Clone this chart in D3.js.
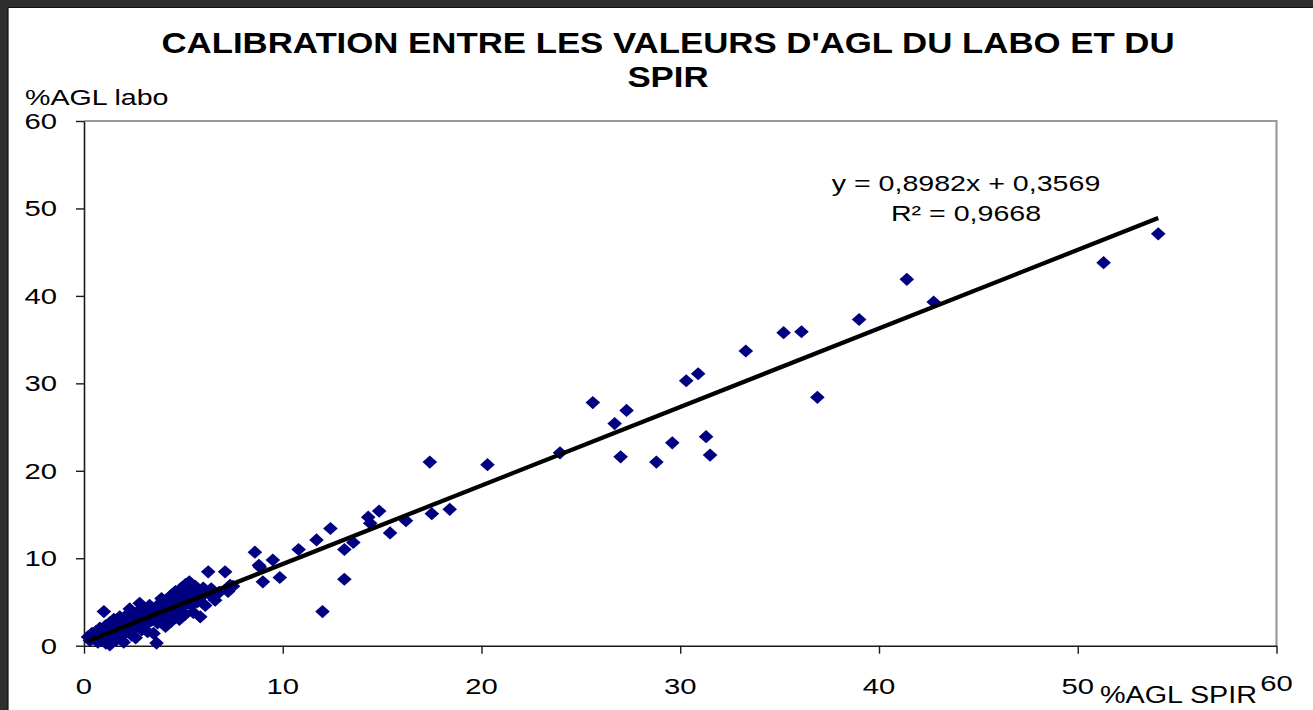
<!DOCTYPE html>
<html>
<head>
<meta charset="utf-8">
<script src="https://cdn.jsdelivr.net/npm/d3@7"></script>
<style>
  html, body { margin: 0; padding: 0; background: #fff; }
  svg { display: block; }
  text { font-family: "Liberation Sans", Arial, sans-serif; fill: #000; }
</style>
</head>
<body>
<svg id="chart" width="1313" height="710"></svg>
<script>
// Calibration data: %AGL measured by NIRS (SPIR) vs laboratory reference
const spirValues = [
  0.2, 0.3, 0.4, 0.5, 0.6, 0.7, 0.8, 0.8, 0.9, 1.0, 1.0, 1.1, 1.1, 1.2, 1.3, 1.3, 1.4, 1.5, 1.5, 1.6,
  1.6, 1.7, 1.8, 1.8, 1.9, 2.0, 2.0, 2.1, 2.2, 2.2, 2.3, 2.4, 2.4, 2.5, 2.6, 2.6, 2.7, 2.8, 2.8, 2.9,
  3.0, 3.0, 3.1, 3.2, 3.2, 3.3, 3.4, 3.5, 3.5, 3.6, 3.65, 3.7, 3.8, 3.8, 3.9, 4.0, 4.0, 4.1, 4.2, 4.2,
  4.3, 4.4, 4.4, 4.5, 4.6, 4.6, 4.7, 4.8, 4.8, 4.9, 5.0, 5.0, 5.1, 5.1, 5.2, 5.3, 5.3, 5.4, 5.5, 5.5,
  5.6, 5.7, 5.8, 5.85, 5.9, 6.0, 6.1, 6.25, 6.3, 6.4, 6.6, 6.8, 7.1, 7.25, 7.35, 7.5,
  8.6, 8.8, 8.85, 9.0, 9.5, 9.85, 10.8, 11.7, 12.0, 12.4, 13.1, 13.1, 13.55, 14.3, 14.4, 14.85, 15.4,
  16.2, 17.4, 17.5, 18.4, 20.3, 23.95, 25.6, 26.7, 27.0, 27.3, 28.8, 29.6, 30.3, 30.9, 31.3, 31.5,
  33.3, 35.2, 36.1, 36.9, 39.0, 41.4, 42.75, 51.3, 54.05
];
const laboValues = [
  1.0, 0.6, 1.4, 0.9, 1.6, 0.4, 1.2, 2.0, 0.7, 1.5, 3.9, 2.3, 0.3, 1.8, 0.1, 2.6, 1.1, 2.0, 3.0, 0.6,
  1.6, 2.4, 3.3, 1.0, 2.0, 2.8, 0.4, 1.5, 3.6, 2.2, 4.2, 1.2, 2.9, 3.4, 2.1, 0.9, 3.9, 4.85, 2.6, 1.8,
  3.2, 4.3, 2.4, 1.6, 3.7, 4.6, 2.9, 3.3, 1.4, 4.0, 0.3, 2.6, 4.8, 3.5, 5.4, 3.0, 4.2, 2.2, 5.0, 3.8,
  4.5, 5.8, 2.8, 3.4, 4.9, 6.2, 4.0, 5.5, 3.0, 6.6, 4.5, 5.9, 7.0, 3.6, 5.2, 6.4, 7.3, 4.6, 5.8, 3.8,
  6.8, 5.0, 6.2, 3.3, 5.6, 6.6, 4.6, 8.45, 5.9, 6.5, 5.2, 6.1, 8.45, 6.2, 6.9, 6.8,
  10.7, 9.2, 9.0, 7.3, 9.8, 7.8, 11.0, 12.1, 3.9, 13.4, 11.0, 7.6, 11.8, 14.7, 14.0, 15.4, 12.9,
  14.3, 21.0, 15.1, 15.6, 20.7, 22.05, 27.8, 25.4, 21.6, 26.9, 21.0, 23.2, 30.3, 31.1, 23.9, 21.8,
  33.7, 35.8, 35.9, 28.4, 37.3, 41.9, 39.3, 43.8, 47.1
];

// Linear regression reported on the chart
const slope = 0.8982;
const intercept = 0.3569;
const equationLabel = "y = 0,8982x + 0,3569";
const r2Label = "R² = 0,9668";

const tickValues = [0, 10, 20, 30, 40, 50, 60];
const titleLines = ["CALIBRATION ENTRE LES VALEURS D'AGL DU LABO ET DU", "SPIR"];
const yTitle = "%AGL labo";
const xTitle = "%AGL SPIR";

const svg = d3.select("#chart");

// Text is drawn slightly widened horizontally
function label(x, y, str, size, anchor, weight, sx) {
  return svg.append("text")
    .attr("transform", `translate(${x},${y}) scale(${sx},1)`)
    .attr("text-anchor", anchor)
    .style("font-size", size + "px")
    .style("font-weight", weight)
    .text(str);
}

// Dark frame on the top and left edges
svg.append("rect").attr("x", 0).attr("y", 0).attr("width", 1313).attr("height", 7).attr("fill", "#2f2f2f");
svg.append("rect").attr("x", 0).attr("y", 0).attr("width", 8).attr("height", 710).attr("fill", "#2f2f2f");
svg.append("path").attr("d", "M8,710V7.5H1313").attr("fill", "none").attr("stroke", "#111").attr("stroke-width", 1.2);

const x = d3.scaleLinear().domain([0, 60]).range([84, 1276.5]);
const y = d3.scaleLinear().domain([0, 60]).range([645.7, 121]);

// Plot area border (top and right)
svg.append("path")
  .attr("d", `M${x(0)},${y(60)}H${x(60)}V${y(0)}`)
  .attr("fill", "none").attr("stroke", "#9a9a9a").attr("stroke-width", 2.2);

// Axes
const gx = svg.append("g").attr("transform", `translate(0,${y(0)})`)
  .call(d3.axisBottom(x).tickValues(tickValues).tickSize(8).tickSizeOuter(0).tickFormat(""));
const gy = svg.append("g").attr("transform", `translate(${x(0)},0)`)
  .call(d3.axisLeft(y).tickValues(tickValues).tickSize(8).tickSizeOuter(0).tickFormat(""));
[gx, gy].forEach(g => {
  g.select(".domain").attr("stroke", "#1a1a1a").attr("stroke-width", 1.6);
  g.selectAll(".tick line").attr("stroke", "#1a1a1a").attr("stroke-width", 1.4);
});

// Tick labels
tickValues.forEach(v => {
  label(57, y(v) + 8, String(v), 22.5, "end", "normal", 1.3);
  label(x(v), v === 60 ? 691 : 694, String(v), 22.5, "middle", "normal", 1.3);
});

// Data points: navy diamonds
const points = spirValues.map((v, i) => [v, laboValues[i]]);
svg.append("g").selectAll("path")
  .data(points)
  .join("path")
  .attr("transform", d => `translate(${x(d[0])},${y(d[1])})`)
  .attr("d", "M0,-6.6L7.3,0L0,6.6L-7.3,0Z")
  .attr("fill", "#000080");

// Trend line across the range of the data
const xMin = d3.min(spirValues), xMax = d3.max(spirValues);
svg.append("line")
  .attr("x1", x(xMin)).attr("y1", y(slope * xMin + intercept))
  .attr("x2", x(xMax)).attr("y2", y(slope * xMax + intercept))
  .attr("stroke", "#000").attr("stroke-width", 4.3);

// Regression labels
label(966, 191, equationLabel, 22, "middle", "normal", 1.3);
label(966, 221, r2Label, 22, "middle", "normal", 1.3);

// Titles
label(668, 53, titleLines[0], 29, "middle", "bold", 1.2);
label(668, 87, titleLines[1], 29, "middle", "bold", 1.2);
label(25, 105, yTitle, 22.5, "start", "normal", 1.27);
label(1100, 703, xTitle, 23, "start", "normal", 1.25);
</script>
</body>
</html>
